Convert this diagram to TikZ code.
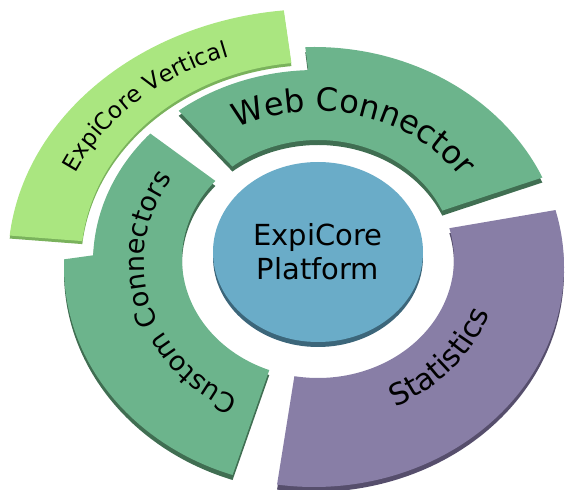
\documentclass[tikz,border=0pt]{standalone}
\usepackage{fontspec}
\setmainfont{DejaVu Sans}
\usetikzlibrary{shapes.geometric, calc, decorations.text}

\definecolor{vertgreen}{RGB}{170,230,128}
\definecolor{vertside}{RGB}{122,178,92}
\definecolor{ringgreen}{RGB}{108,180,140}
\definecolor{ringside}{RGB}{64,110,82}
\definecolor{statpurple}{RGB}{136,126,166}
\definecolor{statside}{RGB}{86,78,108}
\definecolor{coreblue}{RGB}{106,172,200}
\definecolor{coreside}{RGB}{60,102,122}

\newcommand{\ringfont}[2]{\fontsize{#1}{#2}\selectfont}

\tikzset{
  slab/.style n args={3}{fill=#1, preaction={fill=#2, transform canvas={yshift=-#3}}},
  ringtext/.style={decorate, decoration={text along path, text align=center, text={#1}}}
}

\begin{document}
\begin{tikzpicture}[x=1pt, y=1pt]
  \useasboundingbox (0,0) rectangle (566,490);
  \coordinate (ci) at (318,231);
  \coordinate (cs) at (316,228);
  \coordinate (cl) at (314,223);

  % outer band
  \fill[slab={vertgreen}{vertside}{3pt}] ($(cs)+(96:235pt and 200pt)$)
    arc[start angle=96, end angle=174, x radius=235pt, y radius=200pt]
    -- ($(cs)+(174:308pt and 253pt)$)
    arc[start angle=174, end angle=96, x radius=308pt, y radius=253pt] -- cycle;

  % ring around the platform
  \fill[slab={ringgreen}{ringside}{5pt}] ($(ci)+(129:136pt and 119pt)$)
    arc[start angle=129, end angle=24, x radius=136pt, y radius=119pt]
    -- ($(cl)+(24:250pt and 220pt)$)
    arc[start angle=24, end angle=92, x radius=250pt, y radius=220pt]
    -- ($(cs)+(92:223pt and 192pt)$)
    arc[start angle=92, end angle=128, x radius=223pt, y radius=192pt] -- cycle;
  \fill[slab={ringgreen}{ringside}{5pt}] ($(ci)+(139:136pt and 119pt)$)
    arc[start angle=139, end angle=249, x radius=136pt, y radius=119pt]
    -- ($(cl)+(251:250pt and 220pt)$)
    arc[start angle=251, end angle=178, x radius=250pt, y radius=220pt]
    -- ($(cs)+(178:223pt and 192pt)$)
    arc[start angle=178, end angle=138, x radius=223pt, y radius=192pt] -- cycle;
  \fill[slab={statpurple}{statside}{5pt}] ($(ci)+(260:136pt and 119pt)$)
    arc[start angle=260, end angle=375, x radius=136pt, y radius=119pt]
    -- ($(cl)+(15:250pt and 220pt)$)
    arc[start angle=15, end angle=-98.5, x radius=250pt, y radius=220pt] -- cycle;

  \node[ellipse, slab={coreblue}{coreside}{5pt}, minimum width=210pt, minimum height=180pt,
    inner sep=0pt, align=center, font=\ringfont{29}{34}] (core) at (318,238) {ExpiCore\\Platform};

  % texts along the bands
  \path[ringtext={|\ringfont{23}{23}|ExpiCore Vertical}] ($(cs)+(174:263pt and 218pt)$)
    arc[start angle=174, end angle=94, x radius=263pt, y radius=218pt];
  \path[ringtext={|\ringfont{32}{32}|Web Connector}] ($(cs)+(131:174pt and 151pt)$)
    arc[start angle=131, end angle=19, x radius=174pt, y radius=151pt];
  \path[ringtext={|\ringfont{27}{27}|Custom Connectors}] ($(cs)+(259:172pt and 152pt)$)
    arc[start angle=259, end angle=130, x radius=172pt, y radius=152pt];
  \path[ringtext={|\ringfont{30}{30}|Statistics}] ($(cs)+(-87:183pt and 161pt)$)
    arc[start angle=-87, end angle=7, x radius=183pt, y radius=161pt];
\end{tikzpicture}
\end{document}
